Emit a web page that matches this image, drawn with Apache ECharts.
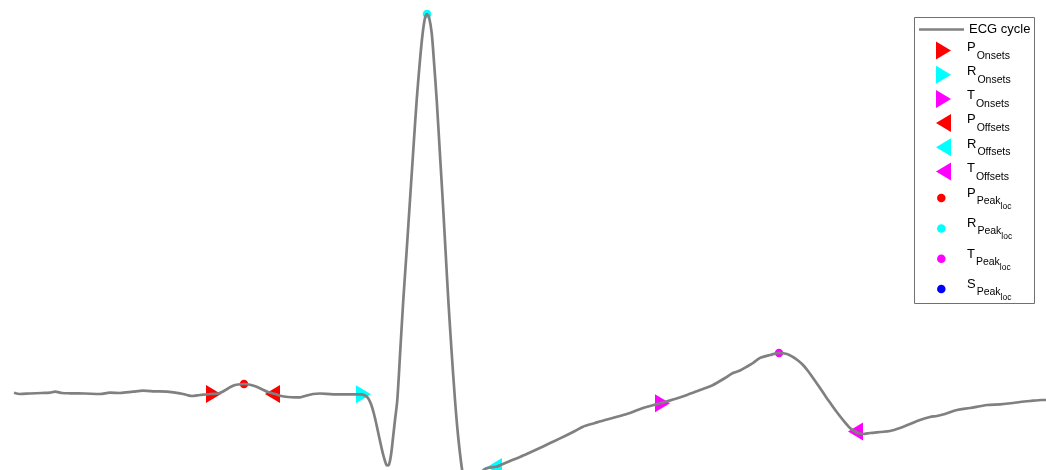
<!DOCTYPE html>
<html>
<head>
<meta charset="utf-8">
<script src="https://cdn.jsdelivr.net/npm/echarts@6/dist/echarts.min.js"></script>
<style>
  html, body { margin: 0; padding: 0; background: #fff; }
  #chart { width: 1046px; height: 470px; }
</style>
</head>
<body>
<div id="chart"></div>
<script>
// ECG 单周期 + 特征点
const sampleIdx = [14, 20, 30, 42, 50, 55, 62, 70, 85, 100, 110, 120, 133, 143, 155, 167, 180, 187, 192, 200,
  206, 211, 218, 223, 228, 233, 238, 244, 250, 256, 262, 268, 275, 281, 288, 295, 300, 306, 313, 320,
  333, 345, 355, 361, 365, 368, 371, 374, 377, 380, 383, 385, 387, 389, 391, 393, 395, 397.3, 400.3, 403.3,
  406.7, 410, 413.3, 416.7, 420, 422.7, 425, 427, 429, 431.7, 434, 436.7, 439.7, 442.7, 445.5, 448.3, 451.5, 455, 458, 461.7,
  464, 470, 475, 480, 484,
  490, 497, 503, 510, 520, 530, 542, 553, 565, 575, 583, 595, 605, 620, 630, 643, 652, 660, 675, 687,
  700, 713, 725, 733, 740, 748, 753, 757, 761, 770, 779, 787, 793, 798, 803, 808, 813, 820, 826, 831,
  836, 843, 850, 855, 858, 863, 870, 880, 890, 900, 910, 920, 930, 937, 945, 957, 970, 987, 1000, 1013,
  1020, 1030, 1042, 1046]
const ecgAmp = [0.013, 0, 0.005, 0.01, 0.013, 0.023, 0.01, 0.007, 0.005, 0, 0.013, 0.01, 0.023, 0.033, 0.027, 0.023, 0.007, -0.01, -0.02, -0.01,
  -0.005, 0, 0.005, 0.025, 0.055, 0.083, 0.095, 0.1, 0.093, 0.075, 0.048, 0.02, 0, -0.02, -0.03, -0.033, -0.033, -0.017, 0, 0.005,
  -0.003, -0.003, -0.003, -0.003, -0.015, -0.04, -0.1, -0.2, -0.33, -0.47, -0.6, -0.67, -0.715, -0.705, -0.61, -0.44, -0.26, -0.06, 0.44, 0.94,
  1.44, 1.94, 2.44, 2.94, 3.34, 3.61, 3.76, 3.8, 3.77, 3.61, 3.32, 2.94, 2.44, 1.94, 1.44, 0.94, 0.44, -0.06, -0.41, -0.73,
  -0.84, -0.91, -0.88, -0.81, -0.755,
  -0.735, -0.725, -0.7, -0.67, -0.63, -0.585, -0.53, -0.477, -0.42, -0.37, -0.327, -0.29, -0.26, -0.22, -0.19, -0.14, -0.115, -0.093, -0.05, -0.01,
  0.04, 0.09, 0.16, 0.21, 0.235, 0.28, 0.31, 0.34, 0.365, 0.39, 0.41, 0.4, 0.37, 0.335, 0.29, 0.23, 0.16, 0.06, -0.03, -0.1,
  -0.17, -0.26, -0.34, -0.375, -0.39, -0.4, -0.39, -0.38, -0.37, -0.34, -0.3, -0.26, -0.23, -0.22, -0.2, -0.16, -0.14, -0.11, -0.103, -0.09,
  -0.08, -0.07, -0.06, -0.06]

// 起点 / 终点 (P, R, T)
const onsetIdx = [211, 361, 660]
const onsetAmp = [0, -0.003, -0.093]
const offsetIdx = [275, 497, 858]
const offsetAmp = [0, -0.73, -0.375]
// 峰值 (P, R, T, S)
const peakIdx = [244, 427, 779, 470]
const peakAmp = [0.1, 3.8, 0.41, -0.91]

const waveNames = ['P', 'R', 'T']
const peakNames = ['P', 'R', 'T', 'S']
const waveColors = { P: '#ff0000', R: '#00ffff', T: '#ff00ff', S: '#0000ff' }

const rightTri = 'path://M0,0L15,9L0,18Z'
const leftTri = 'path://M15,0L0,9L15,18Z'
const font = 'Liberation Sans'

const chart = echarts.init(document.getElementById('chart'))

const series = [{
  name: 'ECG cycle',
  type: 'line',
  data: sampleIdx.map((x, i) => [x, ecgAmp[i]]),
  symbol: 'none',
  smooth: 0.3,
  lineStyle: { color: '#808080', width: 2.7 },
  itemStyle: { color: '#808080' }
}]

waveNames.forEach((w, i) => {
  series.push({
    name: w + '_Onsets', type: 'scatter',
    data: [[onsetIdx[i], onsetAmp[i]]],
    symbol: rightTri, symbolSize: [15, 18], symbolOffset: [2.5, 0],
    itemStyle: { color: waveColors[w], opacity: 1 }
  })
})
waveNames.forEach((w, i) => {
  series.push({
    name: w + '_Offsets', type: 'scatter',
    data: [[offsetIdx[i], offsetAmp[i]]],
    symbol: leftTri, symbolSize: [15, 18], symbolOffset: [-2.5, 0],
    itemStyle: { color: waveColors[w], opacity: 1 }
  })
})
peakNames.forEach((w, i) => {
  series.push({
    name: w + '_Peak_loc', type: 'scatter',
    data: [[peakIdx[i], peakAmp[i]]],
    symbol: 'circle', symbolSize: 8.5,
    itemStyle: { color: waveColors[w], opacity: 1 }
  })
})
// 三角形中心的小点
series.push({
  name: 'centers', type: 'scatter', silent: true,
  data: onsetIdx.map((x, i) => [x, onsetAmp[i]]).concat(offsetIdx.map((x, i) => [x, offsetAmp[i]])),
  symbol: 'circle', symbolSize: 2,
  itemStyle: { color: '#666', opacity: 1 }
})

const subFormatter = name => {
  const p = name.split('_')
  let s = '{m|' + p[0] + '}{s|' + p[1] + '}'
  if (p.length > 2) s += '{t|' + p[2] + '}'
  return s
}

const option = {
  animation: false,
  grid: { left: 0, right: 0, top: 0, bottom: 0 },
  xAxis: { type: 'value', min: 0, max: 1046, show: false },
  yAxis: { type: 'value', min: -0.76, max: 3.94, show: false },
  graphic: [{
    type: 'rect', z: 3,
    shape: { x: 914.5, y: 17.5, width: 120, height: 286 },
    style: { fill: '#fff', stroke: '#707070', lineWidth: 1 }
  }],
  legend: [
    {
      data: [{ name: 'ECG cycle', icon: 'rect' }],
      orient: 'vertical', left: 919, top: 23, padding: 0,
      itemWidth: 45, itemHeight: 2.5,
      textStyle: { fontFamily: font, fontSize: 13, color: '#000' }
    },
    {
      data: waveNames.map(w => ({ name: w + '_Onsets', icon: rightTri }))
        .concat(waveNames.map(w => ({ name: w + '_Offsets', icon: leftTri }))),
      orient: 'vertical', left: 936, top: 40.75, padding: 0,
      itemWidth: 37, itemHeight: 18, itemGap: 3.7,
      formatter: subFormatter,
      textStyle: {
        fontFamily: font, color: '#000',
        rich: {
          m: { fontFamily: font, fontSize: 13, padding: [1, 0, 0, 0], verticalAlign: 'top' },
          s: { fontFamily: font, fontSize: 10.5, padding: [10.5, 0, 0, 1], verticalAlign: 'top' }
        }
      }
    },
    {
      data: peakNames.map(w => ({ name: w + '_Peak_loc', icon: 'circle' })),
      orient: 'vertical', left: 937.05, top: 186.95, padding: 0,
      itemWidth: 41.4, itemHeight: 8.5, itemGap: 6,
      formatter: subFormatter,
      textStyle: {
        fontFamily: font, color: '#000',
        rich: {
          m: { fontFamily: font, fontSize: 13, padding: [2, 0, 0, 0], verticalAlign: 'top' },
          s: { fontFamily: font, fontSize: 10.5, padding: [10.6, 0, 0, 1], verticalAlign: 'top' },
          t: { fontFamily: font, fontSize: 8.5, padding: [17.3, 0, 0, 0], verticalAlign: 'top' }
        }
      }
    }
  ],
  series: series
}

chart.setOption(option)
</script>
</body>
</html>
